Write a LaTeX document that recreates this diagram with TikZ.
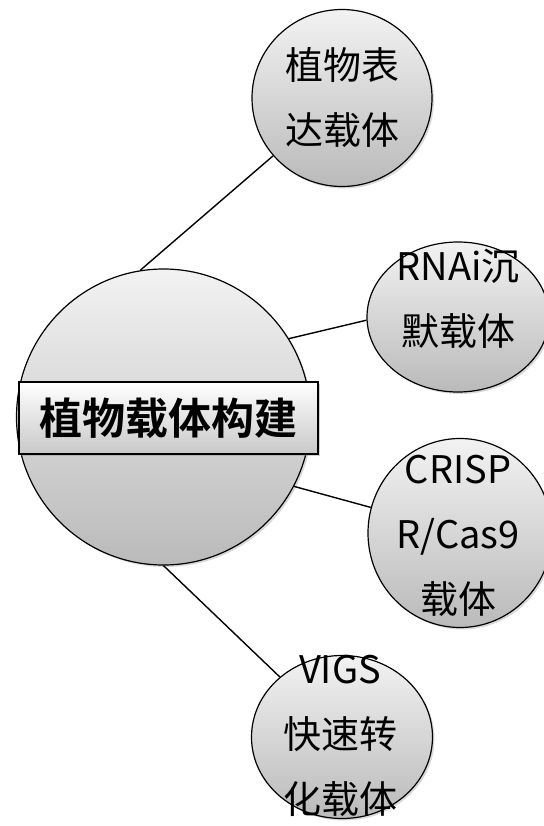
\documentclass[tikz,border=0pt]{standalone}
\usepackage{fontspec}
\setmainfont{Noto Sans CJK SC}[BoldFont={Noto Sans CJK SC Bold}]
\usetikzlibrary{shapes.geometric,shadows}
\definecolor{bubbletop}{RGB}{242,242,242}
\definecolor{bubblebottom}{RGB}{186,186,186}
\definecolor{boxbottom}{RGB}{200,200,200}

\begin{document}
\begin{tikzpicture}[x=1pt,y=-1pt]
        \tikzstyle{every node}=[font=\fontsize{38}{65}\selectfont, align=center, inner sep=0pt]
        \tikzstyle{bubble}=[ellipse, draw=black, line width=1.2pt, top color=bubbletop, bottom color=bubblebottom,
            drop shadow={shadow xshift=2pt, shadow yshift=-2pt, opacity=0.3}]
        \tikzstyle{titlebox}=[rectangle, draw=black, line width=1.5pt, top color=white, bottom color=boxbottom,
            minimum width=299pt, minimum height=72pt, font=\fontsize{43}{50}\selectfont\bfseries,
            drop shadow={shadow xshift=2pt, shadow yshift=-2pt, opacity=0.35}]
        \tikzstyle{link}=[draw=black, line width=1.4pt]
        \useasboundingbox (0,0) rectangle (543,826);
        \begin{scope}
           \node[bubble, minimum width=294pt, minimum height=296pt] (hub) at (163.5,417) {};
           \node[bubble, minimum width=180pt, minimum height=177pt] (express) at (342,98) {};
           \node[bubble, minimum width=182pt, minimum height=150pt] (rnai) at (458,317) {};
           \node[bubble, minimum width=184pt, minimum height=189pt] (crispr) at (460,533) {};
           \node[bubble, minimum width=181pt, minimum height=163pt] (vigs) at (342,737) {};

           \draw[link] (hub.99) -- (express.220);
           \draw[link] (hub.32) -- (rnai.182);
           \draw[link] (hub.332) -- (crispr.164);
           \draw[link] (hub.270) -- (vigs.136);

           \node[titlebox] (title) at (168.5,418) {植物载体构建};

           \node (express text) at (342,98) {植物表\\达载体};
           \node (rnai text) at (458,299) {RNAi沉\\默载体};
           \node (crispr text) at (458,536) {CRISP\\R/Cas9\\载体};
           \node (vigs text) at (340,736) {VIGS\\快速转\\化载体};
        \end{scope}
\end{tikzpicture}
\end{document}
